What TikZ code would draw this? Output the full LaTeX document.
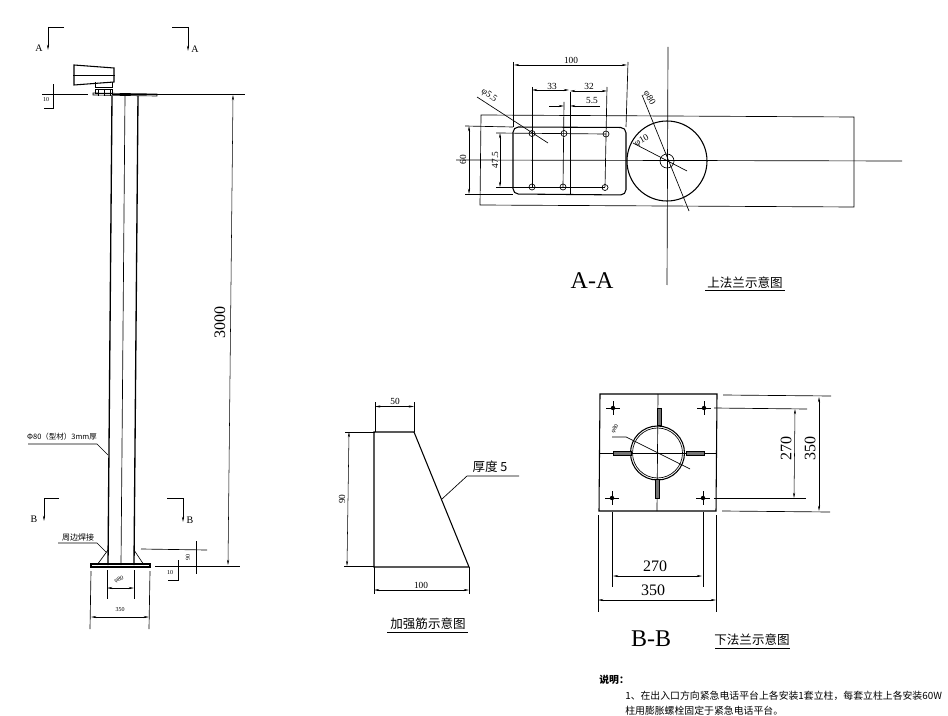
\documentclass[tikz,border=0pt]{standalone}
\usepackage{fontspec}
\usepackage{tikz}
\usetikzlibrary{arrows.meta}
\setmainfont{Liberation Serif}
\newfontfamily\cjk{Noto Sans CJK SC}
\tikzset{
    line/.style={draw, line width=0.5pt},
    part/.style={draw, line width=0.8pt},
    stub/.style={draw, line width=0.5pt, fill=black!55},
    dimline/.style={draw, line width=0.4pt, {Stealth[length=4pt,width=1.6pt]}-{Stealth[length=4pt,width=1.6pt]}},
    endarrow/.style={draw, line width=0.5pt, -{Stealth[length=4pt,width=1.6pt]}},
    tiny/.style={inner sep=0pt, font=\fontsize{4.5}{5}\selectfont},
    small/.style={inner sep=0pt, font=\fontsize{7}{8}\selectfont},
    big/.style={inner sep=0pt, font=\fontsize{12}{13}\selectfont},
    secname/.style={inner sep=0pt, font=\fontsize{18}{20}\selectfont},
    cutname/.style={inner sep=0pt, font=\fontsize{7.5}{8}\selectfont},
    caption/.style={inner sep=0pt, font=\cjk\fontsize{9.4}{10}\selectfont},
    note/.style={inner sep=0pt, anchor=west, font=\cjk\fontsize{7.4}{9}\selectfont}
}
\begin{document}
\begin{tikzpicture}[x=0.75pt,y=-0.75pt]
    \useasboundingbox (0,0) rectangle (948,716);
    % post side view
    \path[line] (64,27) -- (48,27);
    \path[endarrow] (48,27) -- (48,50);
    \path[line] (172,27) -- (188,27);
    \path[endarrow] (188,27) -- (188,51);
    \node[cutname] (cutal) at (39,48) {A};
    \node[cutname] (cutar) at (195,49) {A};
    \path[line] (59,498) -- (44,498);
    \path[endarrow] (44,498) -- (44,521);
    \path[line] (167,498) -- (183,498);
    \path[endarrow] (183,498) -- (183,522);
    \node[cutname] (cutbl) at (34,519) {B};
    \node[cutname] (cutbr) at (190,520) {B};
    % lamp
    \path[part] (74,65) -- (114,68) -- (114,82) -- (74,85) -- cycle;
    \path[line] (73,75) -- (115,75);
    \path[line] (95,82) -- (95,87) -- (112,87) -- (112,82);
    \path[line] (95,89) rectangle (112,93);
    \foreach \x in {98,104,110}{
        \path[line] (\x,89) -- (\x,96);
    }
    \path[line] (93,93) -- (157,94) -- (157,96) -- (93,95) -- cycle;
    % post
    \path[part, line width=1pt] (112,96) -- (108,565);
    \path[line] (125,96) -- (121,565);
    \path[part, line width=1pt] (138,96) -- (134,565);
    \path[part] (91,564) rectangle (150,567);
    \path[line] (108,550) -- (97,565);
    \path[line] (134,550) -- (144,565);
    % post dimensions
    \path[line] (42,94) -- (88,94);
    \path[line] (112,94) -- (245,94);
    \path[line] (155,566) -- (240,566);
    \path[dimline] (233,95) -- (228,565);
    \node[big, rotate=90] (h3000) at (220,322) {3000};
    \path[line] (44,108) -- (53,108) -- (53,84);
    \node[tiny] (t10) at (46,100) {10};
    \path[line] (141,549) -- (207,550);
    \path[line] (196,541) -- (196,574);
    \node[tiny, rotate=90] (t90) at (188,557) {90};
    \path[line] (168,580) -- (178,580) -- (178,560);
    \node[tiny] (b10) at (170,573) {10};
    \path[line] (107,570) -- (107,599);
    \path[line] (134,570) -- (134,599);
    \path[dimline] (107,588) -- (134,588);
    \node[tiny, rotate=20] (d80) at (119,580) {φ80};
    \path[line] (91,571) -- (90,629);
    \path[line] (150,571) -- (149,629);
    \path[dimline] (91,617) -- (149,617);
    \node[tiny] (w350) at (120,610) {350};
    % leaders
    \node[inner sep=0pt, font=\cjk\fontsize{5.6}{6}\selectfont] (tube) at (62,437) {Φ80（型材）3mm厚};
    \path[line] (28,444) -- (97,444) -- (108,455);
    \node[inner sep=0pt, font=\cjk\fontsize{6}{7}\selectfont] (weld) at (78,537) {周边焊接};
    \path[line] (58,543) -- (97,543) -- (106,552);
    % upper flange
    \path[line] (481,115) -- (854,117) -- (854,207) -- (480,205) -- cycle;
    \path[part, rounded corners=4pt] (513,127) -- (626,127.5) -- (626,195) -- (513,194) -- cycle;
    \path[part] (667,161) circle (40);
    \path[line] (667,161) circle (7);
    \path[line] (456,160) -- (902,161);
    \path[line] (668,47) -- (667,285);
    \foreach \x/\y in {532/133.5, 564/133.5, 606/134, 532/187, 563/187, 605/187.5}{
        \path[line] (\x,\y) circle (3);
    }
    \path[line] (532,87) -- (532,187);
    \path[line] (564,102) -- (563,187);
    \path[line] (607,87) -- (605,187);
    \path[line] (570,92) -- (570,195);
    \path[line] (496,133) -- (606,134);
    \path[line] (496,187) -- (605,187);
    \path[line] (465,126) -- (513,127);
    \path[line] (465,194) -- (513,194);
    \path[line] (513,62) -- (513,127);
    \path[line] (628,62) -- (626,127);
    \path[dimline] (514,65) -- (627,65);
    \node[small] (a100) at (571,60) {100};
    \path[dimline] (532,90) -- (569,90);
    \node[small] (a33) at (552,86) {33};
    \path[dimline] (570,91) -- (607,91);
    \node[small] (a32) at (589,86) {32};
    \path[endarrow] (549,106) -- (564,106);
    \path[endarrow] (600,106) -- (570,106);
    \node[small] (a55) at (592,101) {5.5};
    \path[dimline] (500,133) -- (500,187);
    \node[small, rotate=90] (a475) at (495,160) {47.5};
    \path[dimline] (469,126) -- (469,194);
    \node[small, rotate=90] (a60) at (463,160) {60};
    \path[line] (477,97) -- (548,143);
    \node[small, rotate=-35] (hole) at (489,96) {φ5.5};
    \path[line] (642,95) -- (689,211);
    \node[small, rotate=-60] (d80a) at (649,98) {φ80};
    \path[line] (633,143) -- (687,171);
    \node[small, rotate=30] (d10) at (642,141) {φ10};
    \node[secname] (nameA) at (592,281) {A-A};
    \node[caption] (capA) at (745,283) {上法兰示意图};
    \path[line] (705,290) -- (785,290);
    % rib
    \path[part] (374,432) -- (414,432) -- (469,567) -- (374,567) -- cycle;
    \path[line] (375,402) -- (375,432);
    \path[line] (414,402) -- (414,432);
    \path[dimline] (375,406.5) -- (414,406.5);
    \node[small] (r50) at (395,401) {50};
    \path[line] (345,432) -- (375,432);
    \path[line] (344,566) -- (374,566);
    \path[dimline] (349,432) -- (347,566);
    \node[small, rotate=90] (r90) at (342,499) {90};
    \path[line] (374,567) -- (374,594);
    \path[line] (469,567) -- (469,594);
    \path[dimline] (374,590) -- (469,590);
    \node[small] (r100) at (421,585) {100};
    \path[line] (442,499) -- (467,476) -- (519,476);
    \node[caption] (thick) at (490,467) {厚度 5};
    \node[caption] (capR) at (428,624) {加强筋示意图};
    \path[line] (387,632) -- (468,632);
    % lower flange
    \path[part] (600,394) -- (717,394) -- (716,511) -- (599,511) -- cycle;
    \path[line] (658,394) -- (657,511);
    \path[line] (600,453) -- (717,453);
    \path[part] (657.5,453) circle (27);
    \path[line] (657.5,453) circle (25);
    \path[stub] (657,408) rectangle (661,425);
    \path[stub] (655,479) rectangle (659,498);
    \path[stub] (613,451) rectangle (631,455);
    \path[stub] (686,451) rectangle (704,455);
    \foreach \x/\y in {613/408, 704/408, 612/498, 703/498}{
        \fill (\x,\y) circle (2.2);
        \path[line] (\x-7,\y) -- (\x+7,\y);
        \path[line] (\x,\y-7) -- (\x,\y+7);
    }
    \path[line] (612,437) -- (626,437) -- (690,469);
    \node[tiny, rotate=60] (d80b) at (615,429) {φ80};
    \path[line] (723,395) -- (831,396);
    \path[line] (722,511) -- (830,512);
    \path[dimline] (819,397) -- (819,511);
    \node[big, rotate=90] (s350) at (810,448) {350};
    \path[line] (714,408) -- (807,409);
    \path[line] (714,498) -- (806,498);
    \path[dimline] (795,409) -- (794,498);
    \node[big, rotate=90] (s270) at (786,448) {270};
    \path[line] (612,512) -- (612,587);
    \path[line] (703,512) -- (703,587);
    \path[dimline] (613,576) -- (702,576);
    \node[big] (b270) at (655,566) {270};
    \path[line] (598,515) -- (598,612);
    \path[line] (716,515) -- (716,612);
    \path[dimline] (598,600) -- (716,600);
    \node[big] (b350) at (653,590) {350};
    \node[secname] (nameB) at (651,639) {B-B};
    \node[caption] (capB) at (752,640) {下法兰示意图};
    \path[line] (715,648) -- (790,648);
    % notes
    \node[note, font=\cjk\bfseries\fontsize{7.4}{9}\selectfont] (notehead) at (599,680) {说明：};
    \node[note] (note1) at (625,696) {1、在出入口方向紧急电话平台上各安装1套立柱，每套立柱上各安装60W};
    \node[note] (note2) at (625,711) {柱用膨胀螺栓固定于紧急电话平台。};
\end{tikzpicture}
\end{document}
